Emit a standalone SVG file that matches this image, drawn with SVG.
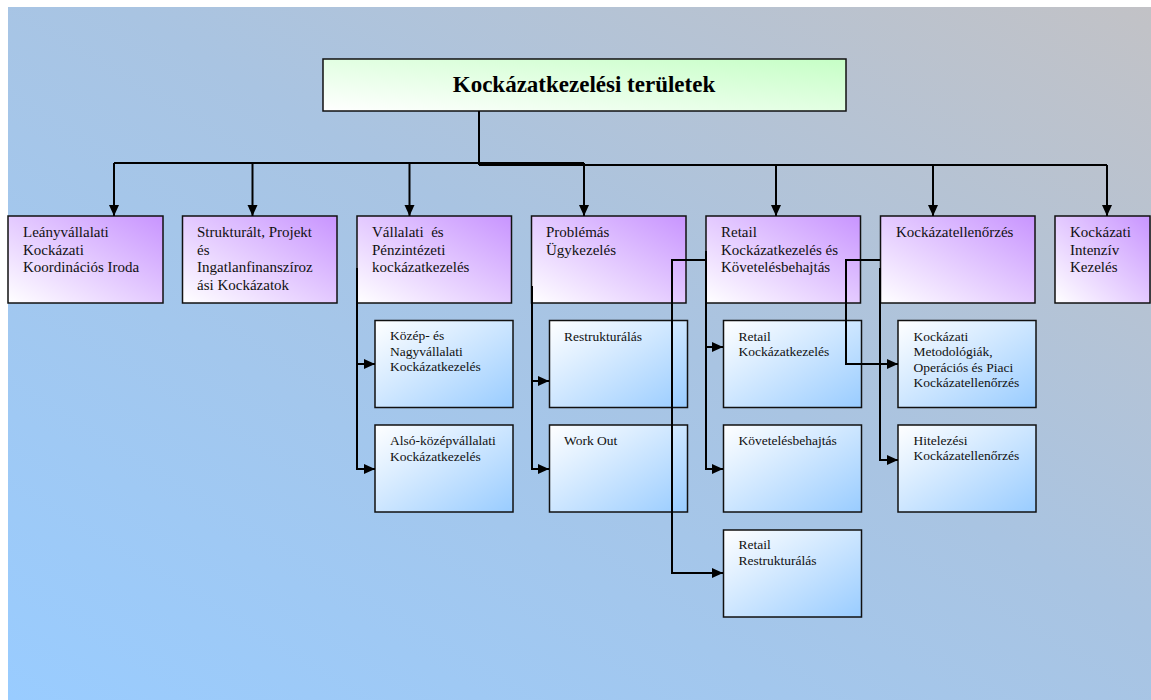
<svg xmlns="http://www.w3.org/2000/svg" width="1151" height="700" viewBox="0 0 1151 700">
<defs>
<linearGradient id="bg" x1="0" y1="1" x2="1" y2="0">
<stop offset="0" stop-color="#99ccff"/>
<stop offset="0.55" stop-color="#a9c4e2"/>
<stop offset="1" stop-color="#c2c2c6"/>
</linearGradient>
<linearGradient id="gTitle" x1="0" y1="1" x2="1" y2="0">
<stop offset="0" stop-color="#ffffff"/>
<stop offset="1" stop-color="#c6ffc6"/>
</linearGradient>
<linearGradient id="gTop" x1="0" y1="1" x2="1" y2="0">
<stop offset="0" stop-color="#ffffff"/>
<stop offset="1" stop-color="#c894ff"/>
</linearGradient>
<linearGradient id="gSub" x1="0" y1="0" x2="1" y2="1">
<stop offset="0" stop-color="#ffffff"/>
<stop offset="1" stop-color="#99ccff"/>
</linearGradient>
<marker id="arr" markerUnits="userSpaceOnUse" markerWidth="12" markerHeight="12" refX="11" refY="5" orient="auto">
<path d="M0,0 L11,5 L0,10 Z" fill="#000"/>
</marker>
</defs>
<style>
.box{stroke:#111;stroke-width:1.5}
.title{fill:url(#gTitle)}
.top{fill:url(#gTop)}
.sub{fill:url(#gSub)}
.t{font-family:"Liberation Serif","Times New Roman",serif;font-size:15px;fill:#111}
.s{font-family:"Liberation Serif","Times New Roman",serif;font-size:13.5px;fill:#111}
.h{font-family:"Liberation Serif","Times New Roman",serif;font-size:23px;font-weight:bold;fill:#000}
.c{fill:none;stroke:#000;stroke-width:2}
</style>
<rect x="8" y="7" width="1143" height="693" fill="url(#bg)"/>

<g id="title">
<rect class="box title" x="323" y="59" width="523" height="52"/>
<text class="h" x="584" y="92" text-anchor="middle">Kockázatkezelési területek</text>
</g>

<g id="n1">
<rect class="box top" x="8" y="216" width="155" height="87"/>
<text class="t" x="23" y="237">Leányvállalati</text>
<text class="t" x="23" y="254.5">Kockázati</text>
<text class="t" x="23" y="272">Koordinációs Iroda</text>
</g>
<g id="n2">
<rect class="box top" x="182.5" y="216" width="154.5" height="87"/>
<text class="t" x="197" y="237">Strukturált, Projekt</text>
<text class="t" x="197" y="254.5">és</text>
<text class="t" x="197" y="272">Ingatlanfinanszíroz</text>
<text class="t" x="197" y="289.5">ási Kockázatok</text>
</g>
<g id="n3">
<rect class="box top" x="357" y="216" width="154.5" height="87"/>
<text class="t" x="372" y="237" xml:space="preserve">Vállalati  és</text>
<text class="t" x="372" y="254.5">Pénzintézeti</text>
<text class="t" x="372" y="272">kockázatkezelés</text>
</g>
<g id="n4">
<rect class="box top" x="531.5" y="216" width="154.5" height="87"/>
<text class="t" x="546" y="237">Problémás</text>
<text class="t" x="546" y="254.5">Ügykezelés</text>
</g>
<g id="n5">
<rect class="box top" x="706" y="216" width="154.5" height="87"/>
<text class="t" x="721" y="237">Retail</text>
<text class="t" x="721" y="254.5">Kockázatkezelés és</text>
<text class="t" x="721" y="272">Követelésbehajtás</text>
</g>
<g id="n6">
<rect class="box top" x="880.5" y="216" width="154.5" height="87"/>
<text class="t" x="896" y="237">Kockázatellenőrzés</text>
</g>
<g id="n7">
<rect class="box top" x="1055" y="216" width="95" height="87"/>
<text class="t" x="1070" y="237">Kockázati</text>
<text class="t" x="1070" y="254.5">Intenzív</text>
<text class="t" x="1070" y="272">Kezelés</text>
</g>

<g id="s31">
<rect class="box sub" x="375" y="320.5" width="138" height="87"/>
<text class="s" x="390" y="340">Közép- és</text>
<text class="s" x="390" y="355.5">Nagyvállalati</text>
<text class="s" x="390" y="371">Kockázatkezelés</text>
</g>
<g id="s32">
<rect class="box sub" x="375" y="425" width="138" height="87"/>
<text class="s" x="390" y="445">Alsó-középvállalati</text>
<text class="s" x="390" y="460.5">Kockázatkezelés</text>
</g>
<g id="s41">
<rect class="box sub" x="549.5" y="320.5" width="138" height="87"/>
<text class="s" x="564" y="340.5">Restrukturálás</text>
</g>
<g id="s42">
<rect class="box sub" x="549.5" y="425" width="138" height="87"/>
<text class="s" x="564" y="445">Work Out</text>
</g>
<g id="s51">
<rect class="box sub" x="723.5" y="320.5" width="138" height="87"/>
<text class="s" x="738.5" y="340.5">Retail</text>
<text class="s" x="738.5" y="356">Kockázatkezelés</text>
</g>
<g id="s52">
<rect class="box sub" x="723.5" y="425" width="138" height="87"/>
<text class="s" x="738.5" y="444.5">Követelésbehajtás</text>
</g>
<g id="s53">
<rect class="box sub" x="723.5" y="530" width="138" height="87"/>
<text class="s" x="738.5" y="548.5">Retail</text>
<text class="s" x="738.5" y="564.5">Restrukturálás</text>
</g>
<g id="s61">
<rect class="box sub" x="898" y="320.5" width="138" height="87"/>
<text class="s" x="913.5" y="340.5">Kockázati</text>
<text class="s" x="913.5" y="356">Metodológiák,</text>
<text class="s" x="913.5" y="371.5">Operációs és Piaci</text>
<text class="s" x="913.5" y="387">Kockázatellenőrzés</text>
</g>
<g id="s62">
<rect class="box sub" x="898" y="425" width="138" height="87"/>
<text class="s" x="913.5" y="444.5">Hitelezési</text>
<text class="s" x="913.5" y="460">Kockázatellenőrzés</text>
</g>

<g id="connectors">
<path class="c" d="M479,111 V165"/>
<path class="c" d="M114,163 H584"/>
<path class="c" d="M479,165 H1107"/>
<path class="c" d="M114,163 V216" marker-end="url(#arr)"/>
<path class="c" d="M252.5,163 V216" marker-end="url(#arr)"/>
<path class="c" d="M409.5,163 V216" marker-end="url(#arr)"/>
<path class="c" d="M584,163 V216" marker-end="url(#arr)"/>
<path class="c" d="M776,165 V216" marker-end="url(#arr)"/>
<path class="c" d="M933,165 V216" marker-end="url(#arr)"/>
<path class="c" d="M1107,165 V216" marker-end="url(#arr)"/>
<path class="c" d="M357,268 V469 H375" marker-end="url(#arr)"/>
<path class="c" d="M357,364 H375" marker-end="url(#arr)"/>
<path class="c" d="M532,286 V469 H549" marker-end="url(#arr)"/>
<path class="c" d="M532,381 H549" marker-end="url(#arr)"/>
<path class="c" d="M706,251 V469 H723" marker-end="url(#arr)"/>
<path class="c" d="M706,347 H723" marker-end="url(#arr)"/>
<path class="c" d="M706,260 H672 V573 H723" marker-end="url(#arr)"/>
<path class="c" d="M880,260 H846 V364 H898" marker-end="url(#arr)"/>
<path class="c" d="M880,268 V460 H898" marker-end="url(#arr)"/>
</g>
</svg>
